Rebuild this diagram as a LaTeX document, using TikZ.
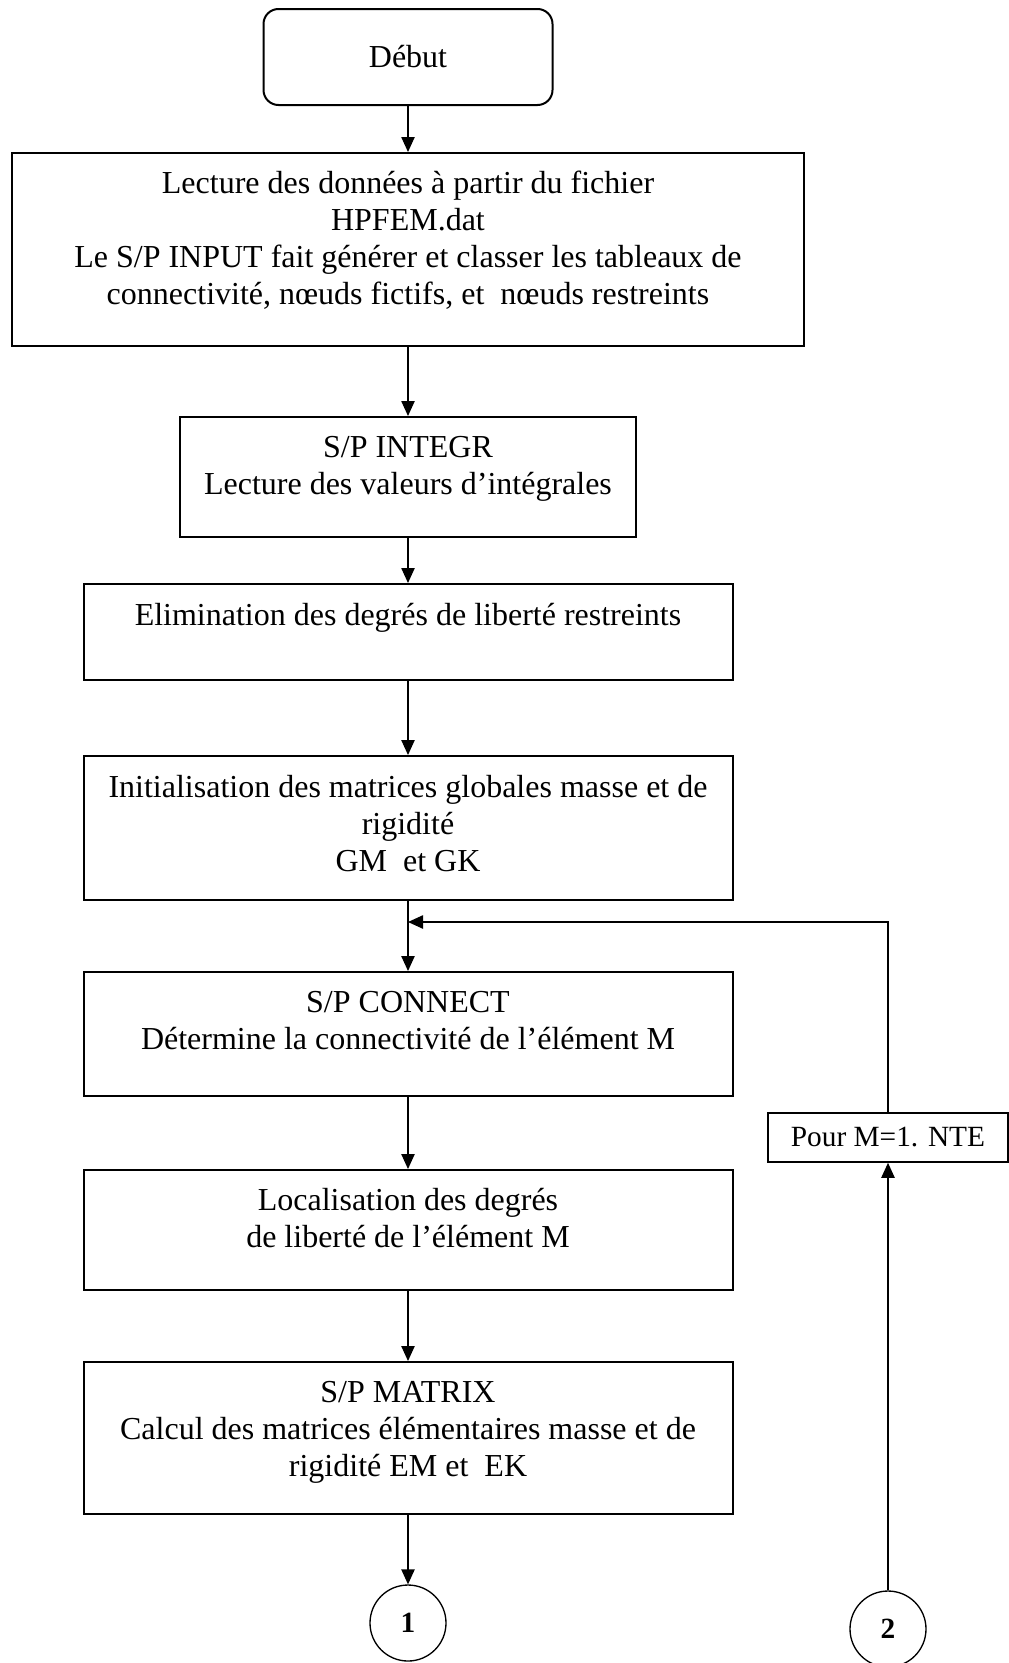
\documentclass[tikz,border=0pt]{standalone}
\usepackage{fontspec}
\setmainfont{Liberation Serif}
\usetikzlibrary{arrows.meta}
\begin{document}
\begin{tikzpicture}[x=0.75pt,y=-0.75pt,
  box/.style={draw, line width=1.5pt, rectangle, inner sep=0pt, minimum width=486.75pt},
  txt/.style={font=\fontsize{24}{27.75}\selectfont, align=flush center, inner sep=0pt, anchor=base, text width=590pt},
  arr/.style={line width=1pt, -{Triangle[length=11.25pt,width=10pt]}},
  conn/.style={draw, circle, line width=1pt, minimum size=57pt, inner sep=0pt, font=\fontsize{22}{26}\selectfont\bfseries},
  loopbox/.style={draw, line width=1.2pt, rectangle, inner sep=0pt, minimum width=180pt, minimum height=36.75pt, font=\fontsize{22}{26}\selectfont}]
\useasboundingbox (0,0) rectangle (1009,1663);
% boxes
\node[box, rounded corners=11.25pt, minimum width=216.75pt, minimum height=72pt] (debut) at (408,57) {};
\node[box, minimum width=594pt, minimum height=144.75pt] (b2) at (408,249.5) {};
\node[box, minimum width=342pt, minimum height=90pt] (b3) at (408,477) {};
\node[box, minimum height=72pt] (b4) at (408,632) {};
\node[box, minimum height=108pt] (b5) at (408,828) {};
\node[box, minimum height=93pt] (b6) at (408,1034) {};
\node[box, minimum height=90pt] (b7) at (408,1230) {};
\node[box, minimum height=114pt] (b8) at (408,1438) {};
\node[loopbox] (pour) at (888,1137.5) {\raisebox{-2.5pt}{Pour M=1. NTE}};
\node[conn] (c1) at (408,1623) {1};
\node[conn] (c2) at (888,1629) {2};
% texts
\node[txt] (tdebut) at (408,67) {Début};
\node[txt] (t2) at (408,193) {Lecture des données à partir du fichier\\HPFEM.dat\\Le S/P INPUT fait générer et classer les tableaux de\\connectivité, nœuds fictifs, et\ \ nœuds restreints};
\node[txt] (t3) at (408,457) {S/P INTEGR\\Lecture des valeurs d’intégrales};
\node[txt] (t4) at (408,625) {Elimination des degrés de liberté restreints};
\node[txt] (t5) at (408,797) {Initialisation des matrices globales masse et de\\rigidité\\GM\ \ et GK};
\node[txt] (t6) at (408,1012) {S/P CONNECT\\Détermine la connectivité de l’élément M};
\node[txt] (t7) at (408,1210) {Localisation des degrés\\de liberté de l’élément M};
\node[txt] (t8) at (408,1402) {S/P MATRIX\\Calcul des matrices élémentaires masse et de\\rigidité EM et\ \ EK};
% connectors
\coordinate (j) at (408,922);
\draw[arr] (debut.south) -- (b2.north);
\draw[arr] (b2.south) -- (b3.north);
\draw[arr] (b3.south) -- (b4.north);
\draw[arr] (b4.south) -- (b5.north);
\draw[arr] (b5.south) -- (b6.north);
\draw[arr] (b6.south) -- (b7.north);
\draw[arr] (b7.south) -- (b8.north);
\draw[arr] (b8.south) -- (c1.north);
\draw[arr] (c2.north) -- (pour.south);
\draw[arr] (pour.north) |- (j);
\end{tikzpicture}
\end{document}
